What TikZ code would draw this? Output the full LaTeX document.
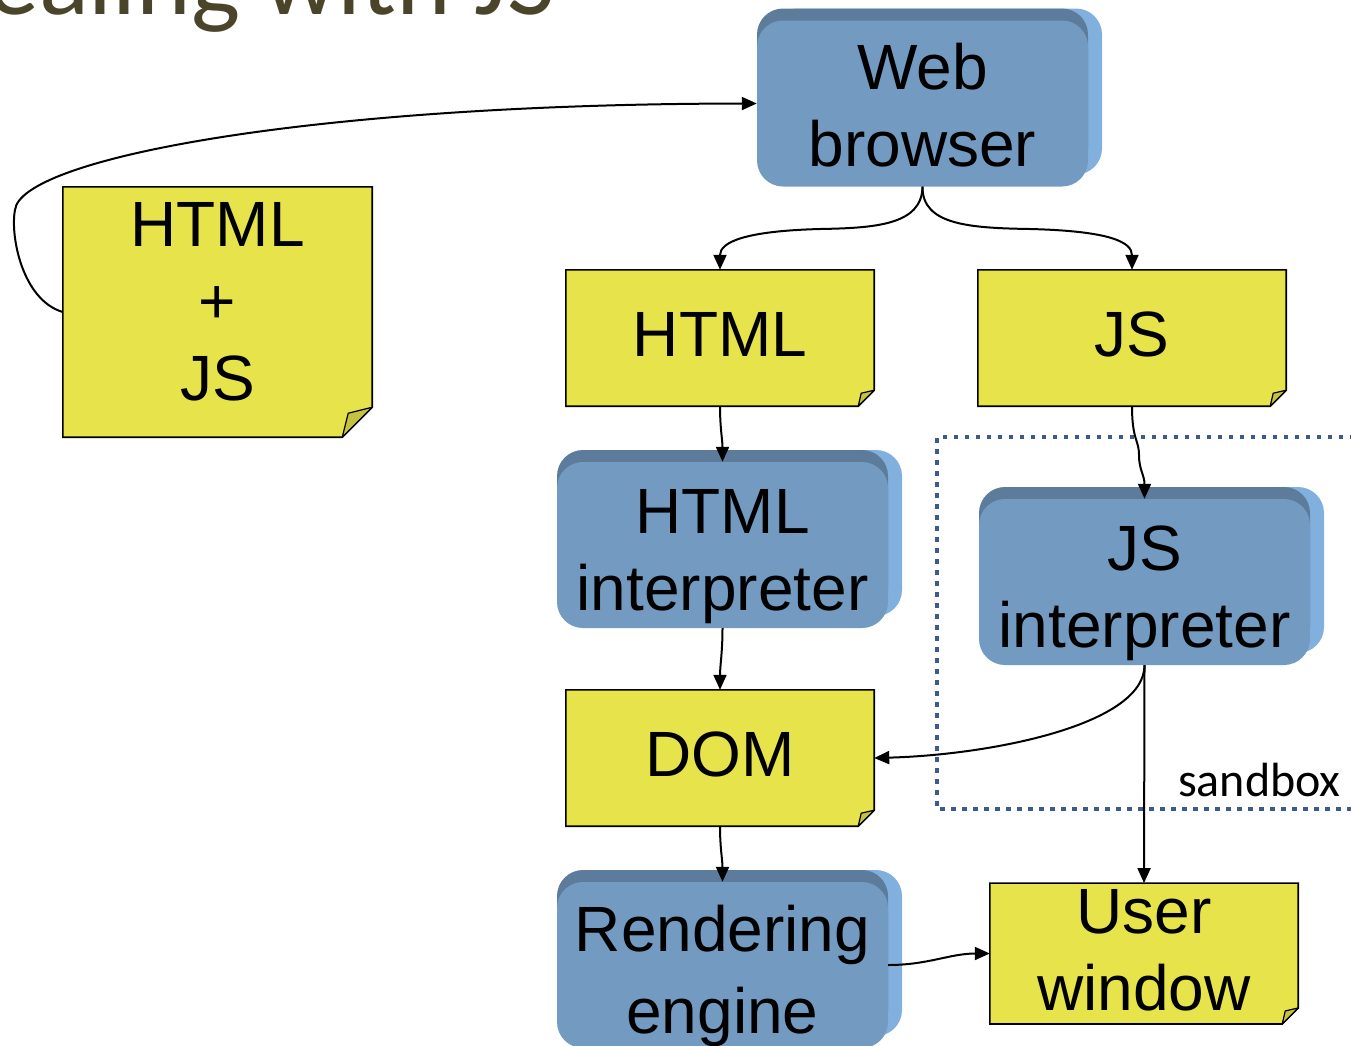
\documentclass[tikz,border=0pt]{standalone}
\usepackage{fontspec}
\setmainfont{Liberation Sans}
\newfontfamily\calibfont{Carlito}
\usetikzlibrary{arrows.meta,shadows}
\pgfdeclarelayer{background}
\pgfsetlayers{background,main}
\definecolor{bface}{HTML}{739BC1}
\definecolor{bdark}{HTML}{5D7B9B}
\definecolor{blight}{HTML}{82B0DE}
\definecolor{nyellow}{HTML}{E6E44A}
\definecolor{nfold}{HTML}{C4C23F}
\definecolor{sbblue}{HTML}{3C5A8C}
\definecolor{titlec}{HTML}{4A452A}
% struts that fix where the baselines sit inside a box
\newcommand\bstrut{\rule[-4.5pt]{0pt}{72.5pt}}
\newcommand\wstrut{\rule[-9.5pt]{0pt}{67.5pt}}
\newcommand\nstrut{\rule[-13.5pt]{0pt}{63.5pt}}
\newcommand\hstrut{\rule[-20.5pt]{0pt}{56.5pt}}
\tikzset{
  big/.style={font=\fontsize{64}{77}\selectfont},
  bluebox/.style={big, align=center, inner sep=0pt, minimum width=331pt, minimum height=166pt,
    rounded corners=26pt, fill=bface,
    general shadow={fill=blight, shadow xshift=14pt, shadow yshift=12pt},
    general shadow={fill=bdark, shadow xshift=0pt, shadow yshift=12pt}},
  note/.style={big, align=center, inner sep=0pt, minimum width=308pt, minimum height=136pt},
  notebody/.style={fill=nyellow, draw=black, line width=1.6pt, line join=miter},
  notefold/.style={fill=nfold, draw=black, line width=1.2pt, line join=round},
  conn/.style={draw=black, line width=2pt, -{Triangle[length=15pt,width=13pt]}},
  sandbox/.style={draw=sbblue, line width=4.5pt, dash pattern=on 4.5pt off 6.5pt},
}
% #1 node name, #2 fold size (pt), #3 inner fold offset (pt)
\newcommand\notebg[3]{%
  \begin{pgfonlayer}{background}
    \filldraw[notebody] (#1.north west) -- (#1.north east) -- ([yshift=#2pt]#1.south east)
      -- ([xshift=-#2pt]#1.south east) -- (#1.south west) -- cycle;
    \filldraw[notefold] ([xshift=-#2pt]#1.south east) -- ([yshift=#2pt]#1.south east)
      -- ([xshift=-#3pt,yshift=#3pt]#1.south east) -- cycle;
  \end{pgfonlayer}}
\begin{document}
\begin{tikzpicture}[x=1pt,y=-1pt]
\useasboundingbox (0,0) rectangle (1351,1045);
\clip (0,0) rectangle (1351,1045);

% title (cut off at top, as in the reference)
\node[anchor=base east, inner sep=0pt, text=titlec, font=\calibfont\fontsize{104}{110}\selectfont] (title) at (556,14) {Dealing with JS};

% sandbox
\coordinate (sbA) at (1365,437);
\coordinate (sbB) at (937,437);
\coordinate (sbC) at (937,809);
\coordinate (sbD) at (1365,809);
\draw[sandbox] (sbA) -- (sbB) -- (sbC) -- (sbD);
\node[anchor=base east, inner sep=0pt, font=\calibfont\fontsize{48}{52}\selectfont] (sblabel) at (1341,796) {sandbox};

% blue boxes
\node[bluebox] (web) at (922.5,103.5) {\wstrut Web\\\wstrut browser};
\node[bluebox] (hint) at (722.5,545) {\bstrut HTML\\\bstrut interpreter};
\node[bluebox] (jsint) at (1144.5,582) {\bstrut JS\\\bstrut interpreter};
\node[bluebox] (rend) at (722.5,965) {\bstrut Rendering\\\bstrut engine};

% notes
\node[note, minimum height=250pt, minimum width=309pt] (hj) at (217.5,312) {\hstrut HTML\\\hstrut +\\\hstrut JS};
\notebg{hj}{30}{24}
\node[note] (html) at (720,338) {\nstrut HTML};
\notebg{html}{16}{13}
\node[note] (js) at (1132,338) {\nstrut JS};
\notebg{js}{16}{13}
\node[note] (dom) at (720,758) {\nstrut DOM};
\notebg{dom}{16}{13}
\node[note, minimum height=137pt] (uw) at (1144,953.5) {\nstrut User\\\nstrut window};
\notebg{uw}{16}{13}

% connectors
\draw[conn] (hj.west) .. controls (22,300) and (10,235) .. (15,210)
  .. controls (20,160) and (300,104) .. (web.west);
\draw[conn] (web.south) .. controls (922,225) and (875,228) .. (820,229)
  .. controls (745,231) and (720,242) .. (html.north);
\draw[conn] (web.south) .. controls (922,225) and (970,228) .. (1030,229)
  .. controls (1110,231) and (1132,242) .. (js.north);
\draw[conn] (html.south) to[out=-90,in=90] (hint.north);
\draw[conn] (js.south) .. controls (1132,440) and (1139,440) .. (1139,455)
  .. controls (1139,470) and (1144.5,475) .. (jsint.north);
\draw[conn] (hint.south) to[out=-90,in=90] (dom.north);
\draw[conn] (jsint.south) .. controls (1144.5,725) and (990,755) .. (dom.east);
\draw[conn] (jsint.south) -- (uw.north);
\draw[conn] (dom.south) to[out=-90,in=90] (rend.north);
\draw[conn] (rend.east) to[out=0,in=180] (uw.west);
\end{tikzpicture}
\end{document}
